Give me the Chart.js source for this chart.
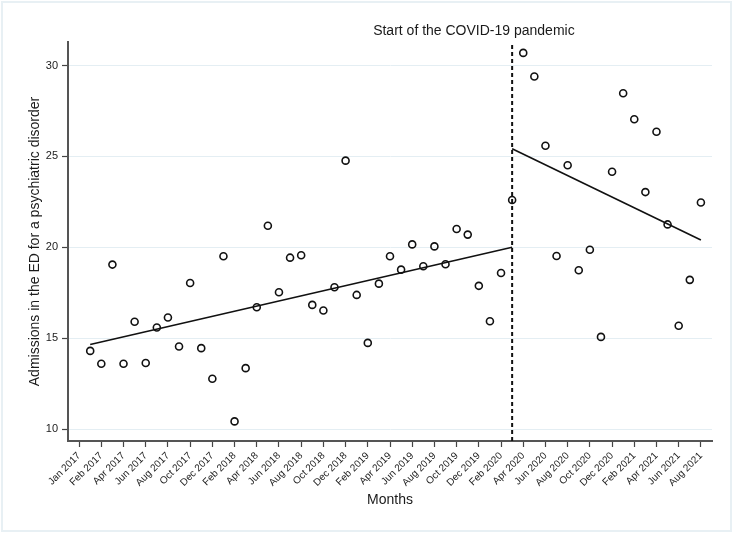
<!DOCTYPE html>
<html>
<head>
<meta charset="utf-8">
<script src="https://cdn.jsdelivr.net/npm/chart.js@4"></script>
<style>
  body { margin: 0; background: #fff; }
  #wrap { width: 733px; height: 534px; }
</style>
</head>
<body>
<div id="wrap"><canvas id="edChart" width="733" height="534"></canvas></div>
<script>
// Tick labels on the month axis (one every second month index)
const xTickValues = [0, 2, 4, 6, 8, 10, 12, 14, 16, 18, 20, 22, 24, 26, 28,
  30, 32, 34, 36, 38, 40, 42, 44, 46, 48, 50, 52, 54, 56];
const xTickLabels = ["Jan 2017", "Feb 2017", "Apr 2017", "Jun 2017", "Aug 2017",
  "Oct 2017", "Dec 2017", "Feb 2018", "Apr 2018", "Jun 2018", "Aug 2018",
  "Oct 2018", "Dec 2018", "Feb 2019", "Apr 2019", "Jun 2019", "Aug 2019",
  "Oct 2019", "Dec 2019", "Feb 2020", "Apr 2020", "Jun 2020", "Aug 2020",
  "Oct 2020", "Dec 2020", "Feb 2021", "Apr 2021", "Jun 2021", "Aug 2021"];
const yTickValues = [10, 15, 20, 25, 30];

// Monthly admissions, Jan 2017 .. Mar 2020 (month 1..39)
const preCovid = [14.30, 13.59, 19.05, 13.59, 15.90, 13.63, 15.59, 16.14, 14.54,
  18.04, 14.45, 12.77, 19.51, 10.42, 13.35, 16.70, 21.19, 17.53, 19.43, 19.56,
  16.83, 16.52, 17.80, 24.77, 17.38, 14.74, 18.00, 19.51, 18.77, 20.16, 18.96,
  20.05, 19.07, 21.01, 20.70, 17.88, 15.93, 18.59, 22.60];
// Apr 2020 .. Aug 2021 (month 40..56)
const postCovid = [30.70, 29.40, 25.59, 19.52, 24.52, 18.74, 19.87, 15.07, 24.16,
  28.48, 27.05, 23.04, 26.36, 21.26, 15.68, 18.21, 22.47];

// Fitted trend lines (start / end of each segment)
const trendPreX = [1, 39];
const trendPreY = [14.65, 20.0];
const trendPostX = [39, 56];
const trendPostY = [25.42, 20.40];

const covidStart = 39;
const yMin = 9.34, yMax = 31.3;

const FONT = "'Liberation Sans', Arial, Helvetica, sans-serif";

// Turn the arrays into {x, y} points
function points(values, firstMonth) {
  return values.map((v, i) => ({ x: firstMonth + i, y: v }));
}
function segment(xs, ys) {
  return xs.map((x, i) => ({ x: x, y: ys[i] }));
}

// Outer frame + the pandemic label above the dashed line
const extras = {
  id: 'extras',
  beforeDraw(chart) {
    const ctx = chart.ctx;
    ctx.save();
    ctx.strokeStyle = '#e8f0f4';
    ctx.lineWidth = 2;
    ctx.strokeRect(2, 2, 729, 529);
    ctx.restore();
  },
  afterDraw(chart) {
    const ctx = chart.ctx;
    const x = chart.scales.x.getPixelForValue(covidStart);
    ctx.save();
    ctx.font = '14px ' + FONT;
    ctx.fillStyle = '#1a1a1a';
    ctx.textAlign = 'left';
    ctx.textBaseline = 'middle';
    ctx.fillText('Start of the COVID-19 pandemic', x - 139, 31);
    ctx.restore();
  }
};

const marker = {
  type: 'scatter',
  showLine: false,
  pointRadius: 3.5,
  pointHoverRadius: 3.5,
  pointBorderWidth: 1.6,
  pointBorderColor: '#111',
  pointBackgroundColor: 'rgba(0,0,0,0)'
};
const trend = {
  type: 'line',
  borderColor: '#111',
  borderWidth: 1.6,
  pointRadius: 0,
  fill: false
};

new Chart(document.getElementById('edChart'), {
  data: {
    datasets: [
      Object.assign({ label: 'pre', data: points(preCovid, 1) }, marker),
      Object.assign({ label: 'post', data: points(postCovid, 40) }, marker),
      Object.assign({ label: 'trendPre', data: segment(trendPreX, trendPreY) }, trend),
      Object.assign({ label: 'trendPost', data: segment(trendPostX, trendPostY) }, trend),
      Object.assign({ label: 'covid', data: segment([covidStart, covidStart], [yMin, yMax]) }, trend,
        { borderDash: [4, 3], borderWidth: 2 })
    ]
  },
  options: {
    responsive: false,
    animation: false,
    layout: { padding: { top: 42, right: 21, left: 0, bottom: 0 } },
    plugins: { legend: { display: false }, tooltip: { enabled: false } },
    scales: {
      x: {
        type: 'linear',
        min: -1,
        max: 57,
        afterBuildTicks: s => { s.ticks = xTickValues.map(v => ({ value: v })); },
        afterFit: s => { s.height = 93; },
        grid: { drawOnChartArea: false, tickLength: 6, tickColor: '#444', tickWidth: 1.2 },
        border: { color: '#555', width: 2 },
        ticks: {
          autoSkip: false,
          minRotation: 45,
          maxRotation: 45,
          padding: 3,
          color: '#222',
          font: { family: FONT, size: 10 },
          callback: (v, i) => xTickLabels[i]
        },
        title: {
          display: true,
          text: 'Months',
          color: '#1a1a1a',
          font: { family: FONT, size: 14 },
          padding: { top: 0, bottom: 25 }
        }
      },
      y: {
        min: yMin,
        max: yMax,
        afterBuildTicks: s => { s.ticks = yTickValues.map(v => ({ value: v })); },
        afterFit: s => { s.width = 68; },
        grid: { color: '#e4eef3', lineWidth: 1, tickLength: 6, tickColor: '#444', tickWidth: 1.2 },
        border: { color: '#555', width: 2 },
        ticks: {
          padding: 4,
          color: '#222',
          font: { family: FONT, size: 11 }
        },
        title: {
          display: true,
          text: 'Admissions in the ED for a psychiatric disorder',
          color: '#1a1a1a',
          font: { family: FONT, size: 14 },
          padding: { top: 27, bottom: 0 }
        }
      }
    }
  },
  plugins: [extras]
});
</script>
</body>
</html>
